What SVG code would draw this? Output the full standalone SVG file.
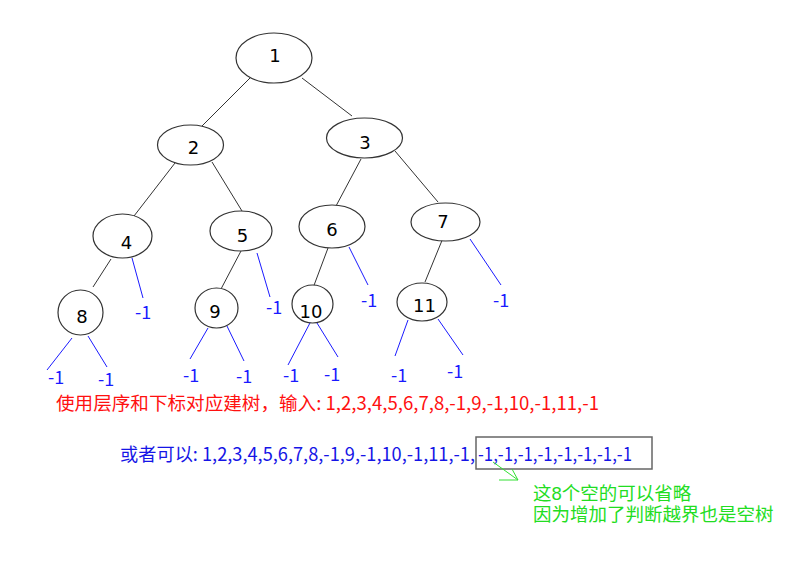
<svg xmlns="http://www.w3.org/2000/svg" width="788" height="574" viewBox="0 0 788 574">
<style>
.n ellipse{fill:#fff;stroke:#333;stroke-width:1.2}
.n text{font-family:"DejaVu Sans","Liberation Sans",sans-serif;font-size:18px;fill:#000;text-anchor:middle}
.e line{stroke:#333;stroke-width:1}
.b line{stroke:#1a1aff;stroke-width:1}
.m{font-family:"Noto Sans CJK SC",sans-serif;font-size:18px;fill:#1a1aff}
.cn{font-family:"Noto Sans CJK SC",sans-serif;font-size:18.5px}
.gn{font-family:"Liberation Sans","Noto Sans CJK SC",sans-serif;font-size:18.5px;fill:#22dd22}
</style>
<rect width="788" height="574" fill="#fff"/>
<g id="edges" class="e">
<line x1="250" y1="78" x2="202" y2="126"/>
<line x1="302" y1="78" x2="352" y2="116"/>
<line x1="175" y1="163" x2="134" y2="216"/>
<line x1="212" y1="162" x2="242" y2="211"/>
<line x1="361" y1="159" x2="336" y2="206"/>
<line x1="395" y1="151" x2="438" y2="202"/>
<line x1="111" y1="259" x2="93" y2="287"/>
<line x1="241" y1="251" x2="221" y2="289"/>
<line x1="328" y1="248" x2="313" y2="288"/>
<line x1="443" y1="238" x2="425" y2="282"/>
</g>
<g id="null-edges" class="b">
<line x1="132" y1="258" x2="143" y2="298"/>
<line x1="257" y1="253" x2="270" y2="297"/>
<line x1="349" y1="247" x2="368" y2="285"/>
<line x1="470" y1="239" x2="501" y2="285"/>
<line x1="72" y1="338" x2="47" y2="370"/>
<line x1="88" y1="336" x2="107" y2="367"/>
<line x1="208" y1="328" x2="190" y2="359"/>
<line x1="226" y1="324" x2="244" y2="361"/>
<line x1="311" y1="321" x2="288" y2="365"/>
<line x1="317" y1="323" x2="338" y2="357"/>
<line x1="408" y1="320" x2="395" y2="356"/>
<line x1="438" y1="319" x2="463" y2="355"/>
</g>
<g id="n1" class="n"><ellipse cx="274" cy="58" rx="38" ry="25"/><text x="275" y="62">1</text></g>
<g id="n2" class="n"><ellipse cx="190.5" cy="145" rx="33" ry="20"/><text x="193.5" y="154">2</text></g>
<g id="n3" class="n"><ellipse cx="364.5" cy="138" rx="38" ry="20"/><text x="365" y="149">3</text></g>
<g id="n4" class="n"><ellipse cx="122.5" cy="236" rx="29.5" ry="22"/><text x="126.5" y="249">4</text></g>
<g id="n5" class="n"><ellipse cx="241" cy="231" rx="31" ry="20"/><text x="242.5" y="242">5</text></g>
<g id="n6" class="n"><ellipse cx="332" cy="226.5" rx="33" ry="21.5"/><text x="332" y="236">6</text></g>
<g id="n7" class="n"><ellipse cx="445.5" cy="222" rx="34.5" ry="19"/><text x="443" y="228">7</text></g>
<g id="n8" class="n"><ellipse cx="80.5" cy="312.5" rx="22.5" ry="22.5"/><text x="82" y="323">8</text></g>
<g id="n9" class="n"><ellipse cx="216.5" cy="308" rx="21.5" ry="20"/><text x="215" y="318">9</text></g>
<g id="n10" class="n"><ellipse cx="312.5" cy="304" rx="20.5" ry="19"/><text x="311" y="318">10</text></g>
<g id="n11" class="n"><ellipse cx="422" cy="302" rx="25" ry="19"/><text x="424.5" y="312">11</text></g>
<g id="null-labels">
<text class="m" x="135" y="319">-1</text>
<text class="m" x="266" y="314">-1</text>
<text class="m" x="361" y="307">-1</text>
<text class="m" x="493" y="307">-1</text>
<text class="m" x="48" y="384">-1</text>
<text class="m" x="98" y="386">-1</text>
<text class="m" x="183" y="382">-1</text>
<text class="m" x="236" y="383">-1</text>
<text class="m" x="283" y="382">-1</text>
<text class="m" x="324" y="381">-1</text>
<text class="m" x="391" y="382">-1</text>
<text class="m" x="447" y="378">-1</text>
</g>
<text class="cn" x="56" y="410" fill="#ff1010" textLength="543" lengthAdjust="spacingAndGlyphs">使用层序和下标对应建树，输入: 1,2,3,4,5,6,7,8,-1,9,-1,10,-1,11,-1</text>
<text class="cn" x="120" y="461" fill="#1515e6" textLength="355" lengthAdjust="spacingAndGlyphs">或者可以: 1,2,3,4,5,6,7,8,-1,9,-1,10,-1,11,-1,</text>
<text class="cn" x="478" y="461" fill="#1515e6" textLength="154" lengthAdjust="spacingAndGlyphs">-1,-1,-1,-1,-1,-1,-1,-1</text>
<rect x="476" y="437" width="176" height="32" fill="none" stroke="#666" stroke-width="1.5"/>
<g id="note-arrow" stroke="#33e033" stroke-width="1" fill="none">
<line x1="493" y1="462" x2="518" y2="480"/>
<polyline points="499,480 518,480 512,469"/>
</g>
<text class="gn" x="533" y="500">这8个空的可以省略</text>
<text class="gn" x="533" y="521">因为增加了判断越界也是空树</text>
</svg>
